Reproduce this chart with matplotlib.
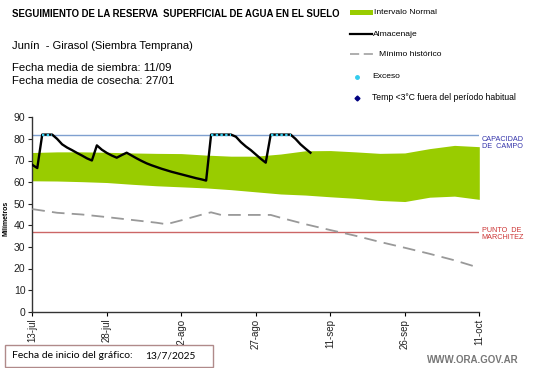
import matplotlib
matplotlib.use('Agg')
import matplotlib.pyplot as plt
from matplotlib.lines import Line2D
from matplotlib.patches import Rectangle
import numpy as np

plt.rcParams['font.family'] = ['Liberation Sans', 'DejaVu Sans']

# --- data (days since 13/7/2025) ---
band_days = [0, 5, 10, 15, 20, 25, 30, 35, 40, 45, 50, 55, 60, 65, 70, 75, 80, 85, 90]
band_top = [73.7, 74.0, 74.0, 73.8, 73.5, 73.3, 73.2, 72.5, 72.0, 72.0, 73.0, 74.5,
            74.6, 74.0, 73.3, 73.5, 75.5, 77.0, 76.4]
band_bottom = [60.6, 60.5, 60.2, 59.8, 59.0, 58.3, 57.8, 57.3, 56.5, 55.5, 54.5, 54.0,
               53.2, 52.5, 51.5, 51.0, 53.0, 53.5, 52.0]

alm_days = list(range(0, 57))
almacenaje = [68.0, 66.5, 82.0, 82.0, 82.0, 80.0, 77.5, 76.0, 74.8, 73.5, 72.3, 71.0,
              70.0, 77.0, 75.0, 73.5, 72.3, 71.3, 72.5, 73.6, 72.3, 71.0, 69.8, 68.7,
              67.8, 67.0, 66.2, 65.5, 64.8, 64.2, 63.6, 63.0, 62.4, 61.8, 61.3, 60.7,
              82.0, 82.0, 82.0, 82.0, 82.0, 81.0, 78.5, 76.5, 74.8, 72.8, 70.8, 69.0,
              82.0, 82.0, 82.0, 82.0, 82.0, 80.0, 77.5, 75.5, 73.6]

min_days = [0, 5, 10, 15, 20, 25, 27, 30, 35, 36, 38, 45, 48, 50, 55, 60, 65, 70, 75, 80, 85, 90]
minimo = [47.5, 45.8, 45.0, 43.8, 42.5, 41.2, 40.5, 42.3, 45.5, 46.0, 44.8, 44.8, 44.8,
          43.5, 40.5, 37.8, 35.2, 32.3, 29.6, 26.8, 23.8, 20.3]

capacidad = 82
marchitez = 37

tick_days = [0, 15, 30, 45, 60, 75, 90]
tick_labels = ['13-jul', '28-jul', '12-ago', '27-ago', '11-sep', '26-sep', '11-oct']

# --- figure ---
W, H = 541, 368
fig = plt.figure(figsize=(W / 100, H / 100), dpi=100)
fig.patch.set_facecolor('white')
ax = fig.add_axes([32.3 / W, 1 - 311.7 / H, (479.3 - 32.3) / W, (311.7 - 117.3) / H])

green = '#99CC00'
ax.fill_between(band_days, band_bottom, band_top, color=green, lw=0, zorder=1)
ax.axhline(capacidad, color='#7FA0D0', lw=1, zorder=2)
ax.axhline(marchitez, color='#CC6666', lw=1, zorder=2)
ax.plot(min_days, minimo, color='#999999', lw=1.3, dashes=(7, 4), zorder=3)
ax.plot(alm_days, almacenaje, color='black', lw=1.7, zorder=4)

# exceso segments
alm = np.array(almacenaje)
exc = np.where(alm >= capacidad, alm, np.nan)
ax.plot(alm_days, exc, color='#33CCEE', lw=1.7, ls=(0, (1, 1)), zorder=5)

ax.set_xlim(0, 90)
ax.set_ylim(0, 90)
ax.set_yticks(range(0, 91, 10))
ax.set_xticks(tick_days)
ax.set_xticklabels(tick_labels, rotation=90, fontsize=7, color='#222222')
ax.tick_params(axis='y', labelsize=7.5, length=3, colors='#222222', pad=2)
ax.tick_params(axis='x', length=3, pad=2)
for s in ['top', 'right']:
    ax.spines[s].set_visible(False)
for s in ['left', 'bottom']:
    ax.spines[s].set_color('#333333')
    ax.spines[s].set_linewidth(1)
ax.set_ylabel('Milímetros', fontsize=5, fontweight='bold', labelpad=2)
ax.yaxis.set_label_coords(-0.05, 0.48)

# right-side labels
ax.text(1.005, capacidad - 4, 'CAPACIDAD\nDE  CAMPO', transform=ax.get_yaxis_transform(),
        fontsize=5.2, color='#3333AA', va='center', ha='left', linespacing=1.1)
ax.text(1.005, marchitez - 1, 'PUNTO  DE\nMARCHITEZ', transform=ax.get_yaxis_transform(),
        fontsize=5.2, color='#CC3333', va='center', ha='left', linespacing=1.1)

# header texts
def fx(px):
    return px / W

def fy(py):
    return 1 - py / H

fig.text(fx(12), fy(14), 'SEGUIMIENTO DE LA RESERVA  SUPERFICIAL DE AGUA EN EL SUELO',
         fontsize=6.9, fontweight='bold', va='center')
fig.text(fx(12), fy(46), 'Junín  - Girasol (Siembra Temprana)', fontsize=8, va='center')
fig.text(fx(12), fy(68), 'Fecha media de siembra: 11/09', fontsize=8.2, va='center')
fig.text(fx(12), fy(81), 'Fecha media de cosecha: 27/01', fontsize=8.2, va='center')

# legend (drawn manually)
fig.patches.append(Rectangle((fx(350), fy(15)), fx(23), 5 / H, transform=fig.transFigure,
                             color=green, lw=0))
fig.text(fx(374), fy(12), 'Intervalo Normal', fontsize=6.1, va='center')
fig.lines.append(Line2D([fx(350), fx(372)], [fy(34), fy(34)], transform=fig.transFigure,
                        color='black', lw=1.6))
fig.text(fx(373), fy(34), 'Almacenaje', fontsize=6.1, va='center')
fig.lines.append(Line2D([fx(350), fx(376)], [fy(54), fy(54)], transform=fig.transFigure,
                        color='#999999', lw=1.1, dashes=(6, 3)))
fig.text(fx(379), fy(54), 'Mínimo histórico', fontsize=6.1, va='center')
fig.lines.append(Line2D([fx(357)], [fy(77)], transform=fig.transFigure, marker='o',
                        ms=2.5, color='#33CCEE', lw=0))
fig.text(fx(372), fy(77), 'Exceso', fontsize=6.1, va='center')
fig.lines.append(Line2D([fx(357)], [fy(98)], transform=fig.transFigure, marker='D',
                        ms=2.5, color='#000080', lw=0))
fig.text(fx(372), fy(98), 'Temp <3°C fuera del período habitual', fontsize=6.2, va='center')

# footer
fig.patches.append(Rectangle((fx(5), fy(367)), fx(208), 22 / H, transform=fig.transFigure,
                             facecolor='white', edgecolor='#B08A8A', lw=1))
fig.text(fx(12), fy(356), 'Fecha de inicio del gráfico:', fontsize=7.5, va='center',
         family=['Lato', 'DejaVu Sans'])
fig.text(fx(145), fy(356), '13/7/2025', fontsize=7.3, va='center',
         family=['Lato', 'DejaVu Sans'])
fig.text(fx(519), fy(360), 'WWW.ORA.GOV.AR', fontsize=7, fontweight='bold',
         color='#777777', va='center', ha='right')

fig.savefig('out.png', dpi=100, facecolor='white')
